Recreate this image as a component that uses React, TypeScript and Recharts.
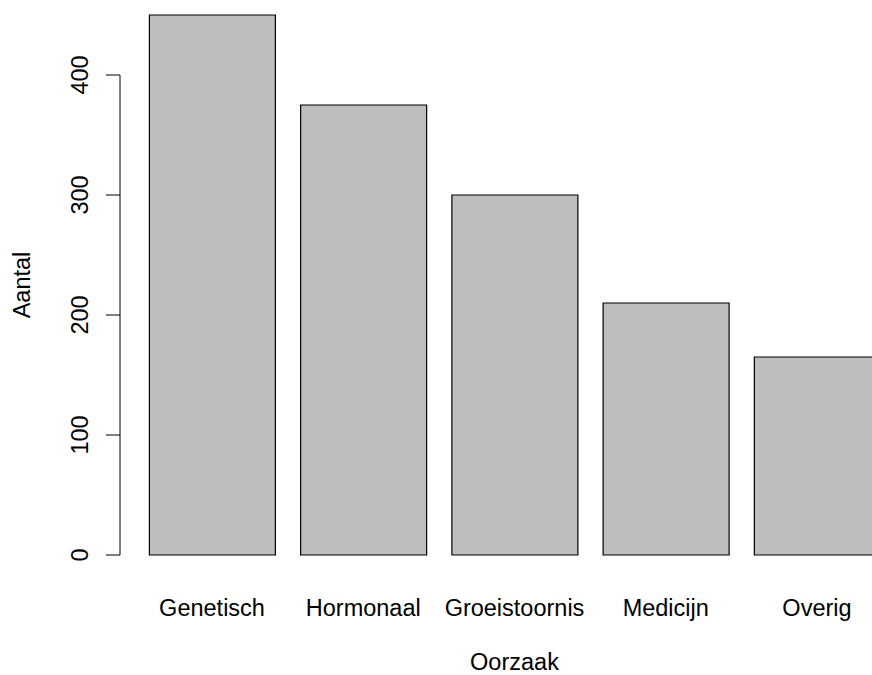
import { BarChart, Bar, XAxis, YAxis, ReferenceLine } from "recharts";

const causes = ["Genetisch", "Hormonaal", "Groeistoornis", "Medicijn", "Overig"];
const counts = [450, 375, 300, 210, 165];
const yTicks = [0, 100, 200, 300, 400];

const data = causes.map((name, i) => ({ name, value: counts[i] }));

const FONT = "'Liberation Sans', Arial, Helvetica, sans-serif";
const FS = 23.5;

// R-style rotated y tick labels
const YTick = (props: any) => {
  const { x, y, payload } = props;
  return (
    <text
      x={x}
      y={y}
      transform={`rotate(-90, ${x}, ${y})`}
      textAnchor="middle"
      fill="#000"
      fontSize={FS}
      fontFamily={FONT}
    >
      {payload.value}
    </text>
  );
};

const App = () => {
  return (
    <div
      style={{
        position: "absolute",
        left: 0,
        top: 0,
        width: 872,
        height: 675,
        overflow: "hidden",
        background: "#fff",
      }}
    >
      <BarChart
        width={930}
        height={675}
        data={data}
        margin={{ top: 15, right: 21, bottom: 0, left: 0 }}
      >
        <XAxis
          dataKey="name"
          height={120}
          axisLine={false}
          tickLine={false}
          tickSize={0}
          tickMargin={44}
          padding={{ left: 16.4, right: 16.4 }}
          tick={{ fill: "#000", fontSize: FS, fontFamily: FONT }}
          interval={0}
          label={{
            value: "Oorzaak",
            position: "insideBottom",
            offset: 5,
            fill: "#000",
            fontSize: FS,
            fontFamily: FONT,
          }}
        />
        <XAxis xAxisId="line" type="number" domain={[0, 1]} hide />
        <YAxis
          width={120}
          domain={[0, 450]}
          ticks={yTicks}
          axisLine={false}
          tickLine={{ stroke: "#000" }}
          tickSize={14}
          tickMargin={18}
          tick={<YTick />}
          label={{
            value: "Aantal",
            angle: -90,
            position: "insideLeft",
            offset: 22,
            fill: "#000",
            fontSize: FS,
            fontFamily: FONT,
            style: { textAnchor: "middle" },
          }}
        />
        <ReferenceLine
          xAxisId="line"
          segment={[
            { x: 0, y: yTicks[0] },
            { x: 0, y: yTicks[yTicks.length - 1] },
          ]}
          stroke="#000"
          strokeWidth={1}
        />
        <Bar
          dataKey="value"
          fill="#bebebe"
          stroke="#000"
          strokeWidth={1.2}
          barSize={126}
          isAnimationActive={false}
        />
      </BarChart>
    </div>
  );
};

export default App;
